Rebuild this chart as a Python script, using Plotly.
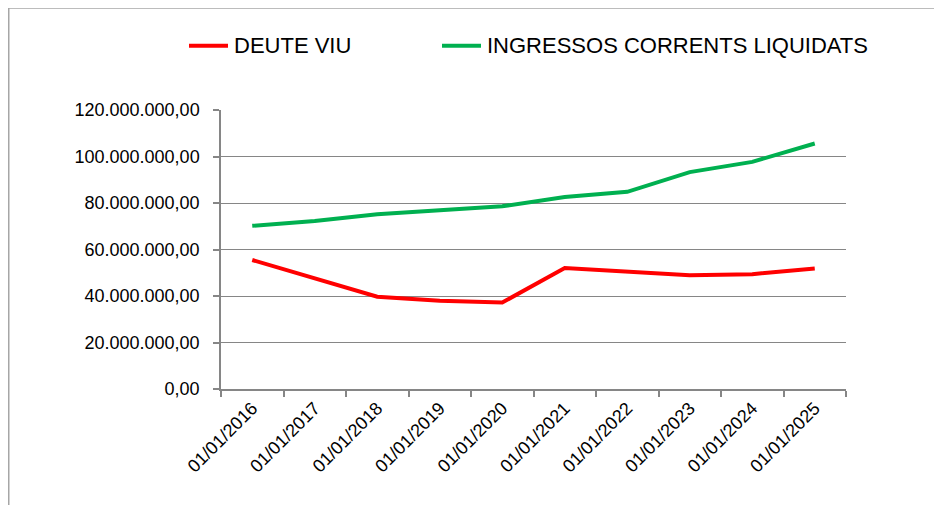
import plotly.graph_objects as go

categories = ["01/01/2016", "01/01/2017", "01/01/2018", "01/01/2019", "01/01/2020",
              "01/01/2021", "01/01/2022", "01/01/2023", "01/01/2024", "01/01/2025"]
deute_viu = [55.5e6, 47.5e6, 39.7e6, 38.0e6, 37.2e6, 52.0e6, 50.6e6, 48.9e6, 49.4e6, 51.8e6]
ingressos = [70.2e6, 72.3e6, 75.2e6, 76.8e6, 78.6e6, 82.6e6, 84.8e6, 93.3e6, 97.7e6, 105.6e6]
y_ticks = [0, 20e6, 40e6, 60e6, 80e6, 100e6, 120e6]
series_names = ["DEUTE VIU", "INGRESSOS CORRENTS LIQUIDATS"]
series_colors = ["#FF0000", "#00B050"]

OFF = 8  # page body margin
W, H = 942 - OFF, 505 - OFF
# plot area in page pixels: x 221..846, y 109.5..389.3
L, R = 221 - OFF, 942 - 846
T, B = 109.5 - OFF, 505 - 389.3
pw, ph = W - L - R, H - T - B

def px_x(x):
    return (x - OFF - L) / pw

def px_y(y):
    return (H - B - (y - OFF)) / ph

FONT = "Liberation Sans, Arial, sans-serif"

fig = go.Figure()
for name, vals, col in zip(series_names, [deute_viu, ingressos], series_colors):
    fig.add_trace(go.Scatter(x=categories, y=vals, mode="lines", name=name,
                             line=dict(color=col, width=4)))

shapes = [
    dict(type="line", xref="paper", yref="paper", x0=px_x(8.5), x1=px_x(950),
         y0=px_y(7), y1=px_y(7), line=dict(color="#A6A6A6", width=2)),
    dict(type="line", xref="paper", yref="paper", x0=px_x(8.5), x1=px_x(8.5),
         y0=px_y(7), y1=px_y(515), line=dict(color="#A6A6A6", width=2)),
]
annotations = []
legend_x = [187, 440]
for lx, name, col in zip(legend_x, series_names, series_colors):
    shapes.append(dict(type="line", xref="paper", yref="paper", x0=px_x(lx + 2), x1=px_x(lx + 41),
                       y0=px_y(45), y1=px_y(45), line=dict(color=col, width=4)))
    annotations.append(dict(xref="paper", yref="paper", x=px_x(lx + 45), y=px_y(44.5),
                            xanchor="left", yanchor="middle", showarrow=False, text=name,
                            font=dict(size=22, family=FONT, color="#000000")))

fig.update_layout(
    width=W, height=H,
    margin=dict(l=L, r=R, t=T, b=B, autoexpand=False),
    paper_bgcolor="white", plot_bgcolor="white",
    separators=",.",
    font=dict(family=FONT, color="#000000", size=18),
    showlegend=False,
    shapes=shapes,
    annotations=annotations,
)

fig.update_xaxes(
    type="category", tickson="boundaries", ticks="outside", ticklen=6, tickcolor="#868686",
    tickwidth=1.5, showline=True, linecolor="#868686", linewidth=1.5, showgrid=False,
    tickangle=-45, tickfont=dict(size=18, family=FONT, color="#000000"),
    range=[-0.5, len(categories) - 0.5],
)
fig.update_yaxes(
    range=[0, 120e6], tickvals=y_ticks, tickformat=",.2f", ticks="outside", ticklen=6,
    tickcolor="#868686", tickwidth=1.5, showline=True, linecolor="#868686", linewidth=1.5,
    showgrid=True, gridcolor="#868686", gridwidth=1, zeroline=False,
    ticklabelstandoff=10,
    tickfont=dict(size=18, family=FONT, color="#000000"),
)

fig.write_html("out.html")
